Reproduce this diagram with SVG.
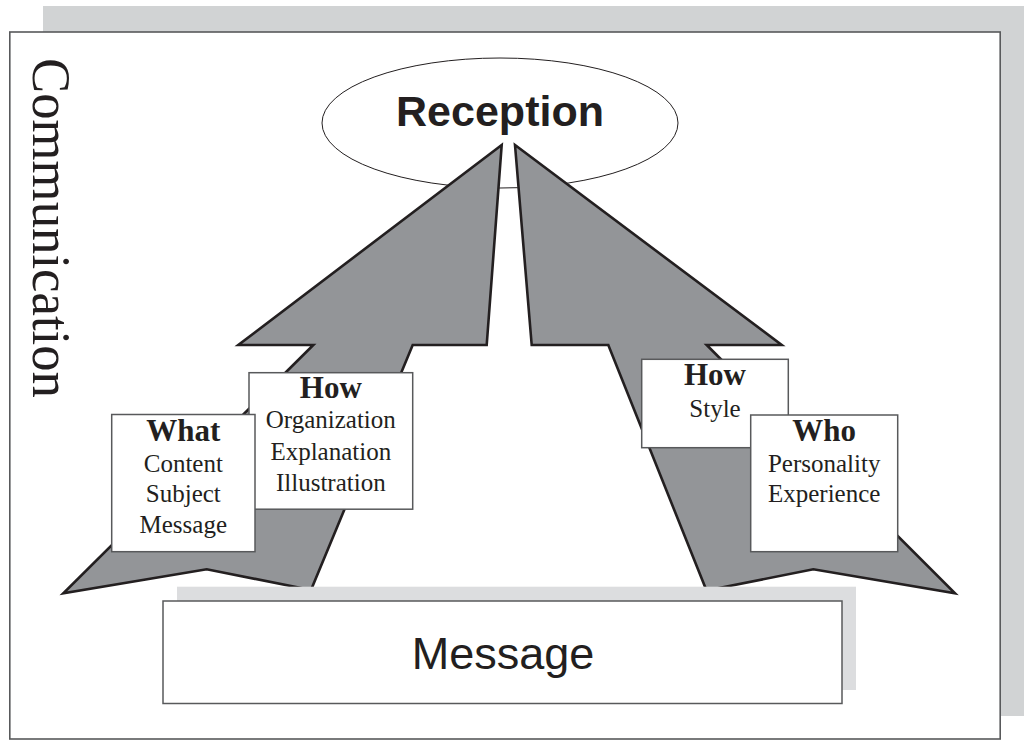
<svg xmlns="http://www.w3.org/2000/svg" width="1024" height="741" viewBox="0 0 1024 741">
<style>
.frame{fill:#ffffff;stroke:#58595b;stroke-width:1.6}
.arrow{fill:#939598;stroke:#231f20;stroke-width:2.6;stroke-linejoin:miter}
.box{fill:#ffffff;stroke:#58595b;stroke-width:1.5}
.ttl{font-family:"Liberation Serif","Times New Roman",serif;font-weight:bold;font-size:31px;fill:#231f20;text-anchor:middle}
.body{font-family:"Liberation Serif","Times New Roman",serif;font-size:25px;fill:#231f20;text-anchor:middle}
.sans{font-family:"Liberation Sans",Arial,sans-serif;fill:#231f20;text-anchor:middle}
</style>
<rect x="43" y="6" width="981" height="710" fill="#d1d3d4"/>
<rect class="frame" x="9.8" y="32" width="990.4" height="707"/>
<text transform="translate(33,58) rotate(90)" x="0" y="0" font-family="'Liberation Serif','Times New Roman',serif" font-size="55" fill="#231f20" textLength="340" lengthAdjust="spacingAndGlyphs">Communication</text>
<g id="reception">
<ellipse cx="500" cy="123" rx="178" ry="65" fill="#ffffff" stroke="#231f20" stroke-width="1"/>
<text class="sans" x="500" y="126" font-size="43" font-weight="bold">Reception</text>
</g>
<g id="connectors">
<polygon class="arrow" points="501.7,145 486.7,345 412.7,345 311,590 206.7,569.3 63.3,593.3 313.3,345 238.3,345"/>
<polygon class="arrow" points="515,145 531.7,345 608.3,345 706.5,590.6 813.3,569.3 955,593.3 706.7,345 781.7,345"/>
</g>
<g id="how-left">
<rect class="box" x="249" y="372.7" width="163.7" height="136.5"/>
<text class="ttl" x="330.8" y="397.7">How</text>
<text class="body" x="330.8" y="428.3">Organization</text>
<text class="body" x="330.8" y="460">Explanation</text>
<text class="body" x="330.8" y="490.7">Illustration</text>
</g>
<g id="what">
<rect class="box" x="111.7" y="414.5" width="143.3" height="137.2"/>
<text class="ttl" x="183.3" y="441">What</text>
<text class="body" x="183.3" y="471.7">Content</text>
<text class="body" x="183.3" y="501.7">Subject</text>
<text class="body" x="183.3" y="533.3">Message</text>
</g>
<g id="how-right">
<rect class="box" x="641.7" y="359.3" width="146.6" height="88.4"/>
<text class="ttl" x="715" y="385">How</text>
<text class="body" x="715" y="416.7">Style</text>
</g>
<g id="who">
<rect class="box" x="750.7" y="415" width="147" height="136.7"/>
<text class="ttl" x="824.2" y="440.7">Who</text>
<text class="body" x="824.2" y="471.7">Personality</text>
<text class="body" x="824.2" y="501.7">Experience</text>
</g>
<g id="message">
<rect x="177" y="586.7" width="679" height="103.3" fill="#dcdddf"/>
<rect class="box" x="163" y="601" width="679" height="102.5"/>
<text class="sans" x="503" y="669" font-size="45">Message</text>
</g>
</svg>
